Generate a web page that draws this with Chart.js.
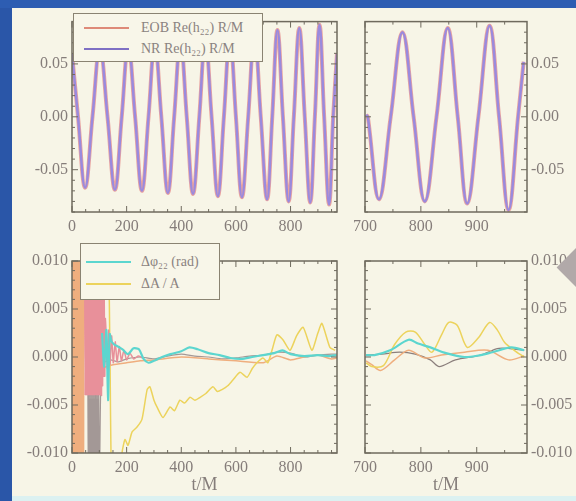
<!DOCTYPE html>
<html>
<head>
<meta charset="utf-8">
<script src="https://cdn.jsdelivr.net/npm/chart.js@4.4.1/dist/chart.umd.min.js"></script>
<style>
  html, body { margin: 0; padding: 0; }
  body { width: 576px; height: 501px; position: relative; overflow: hidden; background: #f7f5e7; font-family: 'Liberation Serif', serif; }
  .edge-left { position: absolute; left: 0; top: 0; width: 12px; height: 501px; background: #2a56a8; z-index: 4; }
  .edge-top { position: absolute; left: 0; top: 0; width: 576px; height: 8px; background: #2d5db2; z-index: 4; }
  .edge-bottom { position: absolute; left: 12px; top: 496px; width: 564px; height: 5px; background: #dcf1f1; z-index: 4; }
  canvas { position: absolute; }
  .legend { position: absolute; background: #f8f6e9; border: 1px solid #8a8372; box-sizing: border-box; z-index: 2; }
  .legend .row { position: absolute; left: 0; height: 0; width: 100%; }
  .legend .swatch { position: absolute; height: 2px; margin-top: -1px; }
  .legend .text { position: absolute; font-size: 14px; line-height: 16px; margin-top: -8px; color: #8a8280; white-space: nowrap; }
  .shape { position: absolute; left: 568px; top: 240px; width: 55px; height: 55px; transform: rotate(45deg); background: #b1a9a9; z-index: 3; }
</style>
</head>
<body>
<div class="edge-left"></div>
<div class="edge-top"></div>
<div class="edge-bottom"></div>

<canvas id="waveFull" width="330" height="232" style="left:12px; top:8px;"></canvas>
<canvas id="waveZoom" width="228" height="232" style="left:348px; top:8px;"></canvas>
<canvas id="diffFull" width="330" height="256" style="left:12px; top:240px;"></canvas>
<canvas id="diffZoom" width="228" height="256" style="left:348px; top:240px;"></canvas>

<div id="legendWave" class="legend" style="left:73px; top:13px; width:190px; height:49px;"></div>
<div id="legendDiff" class="legend" style="left:80px; top:243px; width:140px; height:57px;"></div>
<div class="shape"></div>

<script>
// axis tick values
const xTicksFull = [0, 200, 400, 600, 800];
const xTicksZoom = [700, 800, 900];
const yTicksWave = [-0.05, 0, 0.05];
const yTicksDiff = [-0.010, -0.005, 0, 0.005, 0.010];

// Re(h22) waveform, full run and late-time zoom (t/M, strain)
const waveT = [0, 22, 48, 75, 102, 130, 157, 182, 206, 231, 256, 280, 303, 327, 351, 374, 397, 420, 443, 466,
  488, 511, 534, 556, 578, 600, 622, 645, 668, 691, 714, 733, 752, 772, 793, 812, 832, 852, 872, 889,
  906, 923, 941, 956, 970];
const waveH = [0.060, 0, -0.067, 0, 0.066, 0, -0.069, 0, 0.068, 0, -0.070, 0, 0.070, 0, -0.072, 0, 0.072, 0, -0.073, 0,
  0.074, 0, -0.075, 0, 0.076, 0, -0.076, 0, 0.078, 0, -0.078, 0, 0.082, 0, -0.080, 0, 0.084, 0, -0.081, 0,
  0.087, 0, -0.083, 0, 0.060];
const zoomT = [702, 705, 725, 746, 767, 787, 807, 828, 848, 866, 883, 903, 923, 940, 957, 974, 984];
const zoomH = [0.002, 0, -0.078, 0, 0.080, 0, -0.080, 0, 0.084, 0, -0.082, 0, 0.086, 0, -0.088, 0, 0.052];

// phase and amplitude differences, full run
const phaseT = [110, 118, 126, 132, 138, 145, 155, 168, 185, 205, 225, 245, 262, 280, 300, 330, 360, 400, 430, 460,
  500, 540, 580, 620, 660, 700, 740, 770, 800, 850, 900, 940, 970];
const phaseV = [0.0025, -0.001, 0.0028, -0.0045, 0.0024, 0.0016, 0.0013, 0.0011, 0.0008, 0.0003, 0.0009, 0.0008, -0.0002, -0.0006, -0.0004, 0.0000, 0.0003, 0.0006, 0.0010, 0.0008,
  0.0004, 0.0002, -0.0001, -0.0002, 0.0000, 0.0002, 0.0004, 0.0007, 0.0003, 0.0001, 0.0002, 0.0001, 0.0002];
const ampT = [95, 130, 139, 146, 165, 183, 194, 205, 220, 238, 256, 275, 285, 300, 311, 333, 359, 375, 395, 412,
  432, 450, 469, 490, 516, 532, 549, 570, 589, 615, 641, 660, 677, 699, 717, 735, 750, 772, 798, 822,
  846, 878, 900, 915, 944, 963];
const ampV = [0.020, 0.014, 0.000, -0.014, -0.016, -0.0100, -0.0086, -0.0092, -0.0078, -0.0073, -0.0065, -0.0034, -0.0031, -0.0045, -0.0052, -0.0063, -0.0052, -0.0056, -0.0045, -0.0048,
  -0.0042, -0.0045, -0.0042, -0.0038, -0.0031, -0.0036, -0.0034, -0.0030, -0.0024, -0.0016, -0.0021, -0.0012, -0.0006, -0.0001, -0.0006, 0.0010, 0.0023, 0.0018, 0.0007, 0.0022,
  0.0031, 0.0007, 0.0025, 0.0035, 0.0010, 0.0007];
const orangeT = [0, 2, 4, 6, 8, 10, 12, 14, 16, 18, 20, 22, 24, 26, 28, 30, 32, 34, 36, 38, 40, 42, 44,
  50, 60, 100, 150, 200, 250, 300, 400, 500, 600, 700, 750, 800, 850, 900, 950, 970];
const orangeV = [0.02, -0.02, 0.02, -0.02, 0.02, -0.02, 0.02, -0.02, 0.02, -0.02, 0.02, -0.02, 0.02, -0.02, 0.02, -0.02, 0.02, -0.02, 0.02, -0.02, 0.02, -0.02, 0.02,
  0.0, -0.001, -0.0012, -0.0008, -0.0006, -0.0004, -0.0003, 0.0000, -0.0002, -0.0004, -0.0006, 0.0001, -0.0003, 0.0000, 0.0002, -0.0002, -0.0001];
const redT = [46, 48, 50, 52, 54, 56, 58, 60, 62, 64, 66, 68, 70, 72, 74, 76, 78, 80, 82, 84,
  86, 88, 90, 92, 94, 96, 98, 100, 102, 104, 106, 108, 110, 112, 114, 116, 118, 120, 122, 124,
  129, 134, 139, 145, 151, 158, 165, 173, 181, 190, 200, 212, 226, 242, 258];
const redV = [0.015, -0.004, 0.015, -0.004, 0.015, -0.004, 0.015, -0.004, 0.015, -0.004, 0.015, -0.004, 0.015, -0.004, 0.015, -0.004, 0.015, -0.004, 0.015, -0.004,
  0.015, -0.004, 0.015, -0.004, 0.015, -0.004, 0.015, -0.004, 0.015, -0.004, 0.015, -0.004, 0.012, -0.003, 0.010, -0.002, 0.006, -0.002, 0.004, 0.003,
  -0.0012, 0.0028, -0.0008, 0.0022, -0.0006, 0.0016, -0.0005, 0.0011, -0.0004, 0.0007, -0.0003, 0.0004, -0.0002, 0.0001, -0.0001];
const grayT = [58, 60, 62, 64, 66, 68, 70, 72, 74, 76, 78, 80, 82, 84, 86, 88, 90, 92, 94, 96, 98, 100,
  106, 116, 140, 170, 200, 250, 300, 350, 400, 450, 500, 550, 600, 650, 700, 750, 800, 850, 900, 950, 970];
const grayV = [-0.003, -0.015, -0.003, -0.015, -0.003, -0.015, -0.003, -0.015, -0.003, -0.015, -0.003, -0.015, -0.003, -0.015, -0.003, -0.015, -0.003, -0.015, -0.003, -0.015, -0.003, -0.015,
  -0.002, -0.0006, -0.0003, -0.0005, -0.0002, 0.0000, -0.0002, 0.0001, 0.0003, 0.0001, 0.0000, -0.0002, -0.0001, 0.0001, 0.0002, 0.0005, 0.0004, 0.0000, 0.0002, 0.0003, 0.0003];

// phase and amplitude differences, late-time zoom
const phaseZoomT = [702, 717, 745, 778, 795, 817, 845, 878, 907, 928, 962, 985];
const phaseZoomV = [0.0002, 0.0002, 0.0007, 0.0018, 0.0014, 0.0010, 0.0004, 0.0000, 0.0002, 0.0005, 0.0010, 0.0007];
const ampZoomT = [702, 712, 733, 753, 773, 790, 807, 820, 837, 850, 865, 883, 903, 923, 937, 950, 967, 985];
const ampZoomV = [-0.0006, -0.0010, -0.0009, 0.0013, 0.0026, 0.0026, 0.0013, 0.0005, 0.0023, 0.0036, 0.0033, 0.0010, 0.0020, 0.0036, 0.0028, 0.0015, 0.0007, 0.0000];
const orangeZoomT = [702, 712, 728, 753, 778, 807, 837, 878, 920, 957, 985];
const orangeZoomV = [-0.0004, -0.0008, -0.0014, -0.0003, 0.0007, -0.0001, 0.0002, 0.0005, 0.0007, -0.0003, 0.0001];
const grayZoomT = [702, 730, 762, 790, 817, 833, 862, 907, 940, 985];
const grayZoomV = [0.0002, 0.0003, 0.0005, 0.0003, -0.0003, -0.0010, -0.0003, 0.0002, 0.0009, 0.0007];

const EOB_COLOR = 'rgba(226,128,128,0.7)';
const NR_COLOR = '#9a8ade';
const PHASE_COLOR = '#5cd6cf';
const AMP_COLOR = '#ecd35c';
const RED_COLOR = '#e8909a';
const ORANGE_COLOR = '#efae7e';
const GRAY_COLOR = '#a39896';
const FRAME_COLOR = '#6f6a5e';
const TEXT_COLOR = '#857d7a';

Chart.defaults.font.family = "'Liberation Serif', 'DejaVu Serif', serif";
Chart.defaults.color = TEXT_COLOR;

const pts = (ts, vs) => ts.map((t, i) => ({ x: t, y: vs[i] }));
const fmt = n => v => (Math.abs(v) < 1e-9 ? 0 : v).toFixed(n);

// box around the plot area with inward major/minor ticks on all four sides
const framePlugin = {
  id: 'frame',
  afterDatasetsDraw(chart, args, opts) {
    const { ctx, chartArea: a, scales: { x, y } } = chart;
    ctx.save();
    ctx.strokeStyle = FRAME_COLOR;
    ctx.lineWidth = 1;
    ctx.beginPath();
    const nx = Math.floor((x.max - x.min) / opts.minorX);
    const x0 = Math.ceil(x.min / opts.minorX) * opts.minorX;
    for (let i = 0; i <= nx; i++) {
      const v = x0 + i * opts.minorX;
      if (v > x.max) break;
      const px = x.getPixelForValue(v);
      const major = x.ticks.some(t => Math.abs(t.value - v) < 1e-6);
      const len = major ? 6 : 3;
      ctx.moveTo(px, a.bottom); ctx.lineTo(px, a.bottom - len);
      ctx.moveTo(px, a.top); ctx.lineTo(px, a.top + len);
    }
    const ny = Math.round((y.max - y.min) / opts.minorY);
    for (let i = 0; i <= ny; i++) {
      const v = y.min + i * opts.minorY;
      const py = y.getPixelForValue(v);
      const major = y.ticks.some(t => Math.abs(t.value - v) < opts.minorY / 10);
      const len = major ? 6 : 3;
      ctx.moveTo(a.left, py); ctx.lineTo(a.left + len, py);
      ctx.moveTo(a.right, py); ctx.lineTo(a.right - len, py);
    }
    ctx.stroke();
    ctx.lineWidth = 1.5;
    ctx.strokeRect(a.left, a.top, a.right - a.left, a.bottom - a.top);
    ctx.restore();
  }
};

function axisX(min, max, values, title) {
  return {
    type: 'linear', min, max,
    grid: { display: false, drawTicks: false },
    border: { display: false },
    ticks: { padding: 5, maxRotation: 0, autoSkip: false, font: { size: 16 }, callback: v => String(v) },
    afterBuildTicks: s => { s.ticks = values.map(v => ({ value: v })); },
    title: { display: !!title, text: title || '', font: { size: 18 }, padding: { top: 0, bottom: 0 } },
    afterFit: s => { s.height = title ? 43 : 28; }
  };
}

function axisY(min, max, values, digits, side, width) {
  return {
    type: 'linear', min, max, position: side,
    grid: { display: false, drawTicks: false },
    border: { display: false },
    ticks: { padding: 4, autoSkip: false, font: { size: 16 }, callback: fmt(digits) },
    afterBuildTicks: s => { s.ticks = values.map(v => ({ value: v })); },
    afterFit: s => { s.width = width; }
  };
}

function line(label, data, color, width, order, tension) {
  return { label, data, borderColor: color, backgroundColor: color, borderWidth: width, pointRadius: 0, fill: false, tension, order };
}

function makeChart(id, datasets, xAxis, yAxis, padding, minorX, minorY) {
  return new Chart(document.getElementById(id).getContext('2d'), {
    type: 'line',
    data: { datasets },
    options: {
      responsive: false,
      animation: false,
      layout: { padding },
      scales: { x: xAxis, y: yAxis },
      plugins: { legend: { display: false }, tooltip: { enabled: false }, frame: { minorX, minorY } }
    },
    plugins: [framePlugin]
  });
}

// legend boxes built from the labelled datasets of a chart
function buildLegend(chart, elId, rows, swatchLeft, textLeft) {
  const el = document.getElementById(elId);
  chart.data.datasets.filter(ds => ds.legendText).forEach((ds, i) => {
    const row = document.createElement('div');
    row.className = 'row';
    row.style.top = rows[i] + 'px';
    const sw = document.createElement('div');
    sw.className = 'swatch';
    sw.style.left = swatchLeft + 'px';
    sw.style.width = '45px';
    sw.style.background = ds.legendColor || ds.borderColor;
    const tx = document.createElement('div');
    tx.className = 'text';
    tx.style.left = textLeft + 'px';
    tx.textContent = ds.legendText;
    row.appendChild(sw);
    row.appendChild(tx);
    el.appendChild(row);
  });
}

const waveFull = makeChart('waveFull', [
  Object.assign(line('EOB', pts(waveT, waveH), EOB_COLOR, 4, 2, 0.4), { legendText: 'EOB Re(h\u2082\u2082) R/M', legendColor: '#de8a78' }),
  Object.assign(line('NR', pts(waveT, waveH), NR_COLOR, 2.5, 1, 0.4), { legendText: 'NR Re(h\u2082\u2082) R/M', legendColor: '#7f70c4' })
], axisX(0, 970, xTicksFull), axisY(-0.09, 0.09, yTicksWave, 2, 'left', 60), { top: 13, right: 5 }, 50, 0.01);

makeChart('waveZoom', [
  line('EOB', pts(zoomT, zoomH), EOB_COLOR, 4, 2, 0.4),
  line('NR', pts(zoomT, zoomH), NR_COLOR, 2.5, 1, 0.4)
], axisX(700, 990, xTicksZoom), axisY(-0.09, 0.09, yTicksWave, 2, 'right', 45), { top: 13, left: 5, right: 4 }, 50, 0.01);

const diffFull = makeChart('diffFull', [
  Object.assign(line('phase', pts(phaseT, phaseV), PHASE_COLOR, 2.2, 1, 0.25), { legendText: '\u0394\u03c6\u2082\u2082 (rad)' }),
  Object.assign(line('amp', pts(ampT, ampV), AMP_COLOR, 1.5, 3, 0.2), { legendText: '\u0394A / A' }),
  line('red', pts(redT, redV), RED_COLOR, 1.5, 2, 0.2),
  line('orange', pts(orangeT, orangeV), ORANGE_COLOR, 1.5, 4, 0.2),
  line('gray', pts(grayT, grayV), GRAY_COLOR, 1.2, 5, 0.2)
], axisX(0, 970, xTicksFull, 't/M'), axisY(-0.01, 0.01, yTicksDiff, 3, 'left', 60), { top: 21, right: 5 }, 50, 0.001);

makeChart('diffZoom', [
  line('phase', pts(phaseZoomT, phaseZoomV), PHASE_COLOR, 2.2, 1, 0.3),
  line('amp', pts(ampZoomT, ampZoomV), AMP_COLOR, 1.5, 2, 0.3),
  line('orange', pts(orangeZoomT, orangeZoomV), ORANGE_COLOR, 1.5, 3, 0.3),
  line('gray', pts(grayZoomT, grayZoomV), '#8b7f7c', 1.2, 4, 0.3)
], axisX(700, 990, xTicksZoom, 't/M'), axisY(-0.01, 0.01, yTicksDiff, 3, 'right', 45), { top: 21, left: 5, right: 4 }, 50, 0.001);

buildLegend(waveFull, 'legendWave', [14, 35], 10, 67);
buildLegend(diffFull, 'legendDiff', [18, 40], 5, 60);
</script>
</body>
</html>
